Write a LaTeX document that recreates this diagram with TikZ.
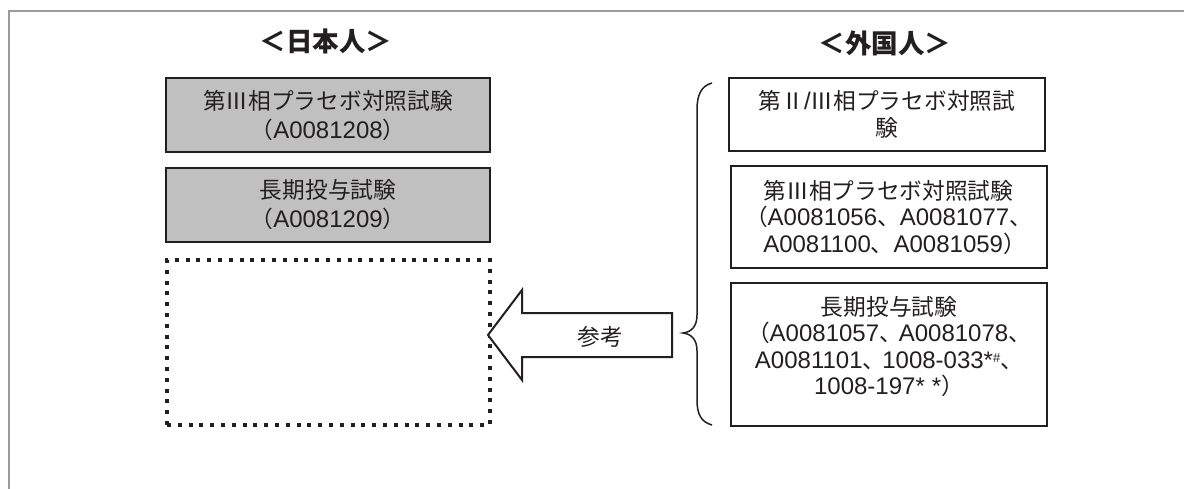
\documentclass[tikz,border=0pt]{standalone}
\usepackage{fontspec}
\setmainfont{Liberation Sans}
\newfontfamily\cj[Scale=0.946]{Noto Sans CJK JP}
\definecolor{ink}{HTML}{231F20}
\definecolor{boxgray}{HTML}{C0C0C0}
\definecolor{framegray}{HTML}{9A9A9A}
\begin{document}
\begin{tikzpicture}[x=1pt,y=-1pt,
  every node/.style={inner sep=0pt, outer sep=0pt},
  header/.style={font=\fontsize{28}{30}\selectfont\cj\bfseries, text=ink},
  jpbox/.style={draw=ink, line width=2pt, fill=boxgray, align=center, text=ink,
    font=\fontsize{24}{29}\selectfont, minimum width=324pt, minimum height=74pt},
  fgbox/.style={draw=ink, line width=2pt, fill=white, align=center, text=ink,
    font=\fontsize{24}{26.5}\selectfont, minimum width=316pt},
  emptybox/.style={draw=ink, line width=4pt, dash pattern=on 4pt off 6.8pt,
    minimum width=323pt, minimum height=165pt},
  reflabel/.style={font=\fontsize{24}{26}\selectfont\cj, text=ink},
  bigarrow/.style={draw=ink, line width=2pt, fill=white, line join=miter},
  bracestyle/.style={draw=ink, line width=1.5pt},
  framestyle/.style={draw=framegray, line width=1.5pt}
]
\useasboundingbox (0,0) rectangle (1184,489);
\fill[white] (0,0) rectangle (1184,489);
% frame
\draw[framestyle] (9,489) -- (9,11) -- (1184,11);

% headers
\node[header] (hjp) at (326,41) {＜日本人＞};
\node[header] (hfg) at (885,43) {＜外国人＞};

% Japanese side
\node[jpbox] (jp1) at (328,115) {{\cj 第Ⅲ相プラセボ対照試験}\\{\cj （}A0081208{\cj ）}};
\node[jpbox] (jp2) at (328,205) {{\cj 長期投与試験}\\{\cj （}A0081209{\cj ）}};
\node[emptybox] (jp3) at (328.5,342.5) {};

% foreign side
\node[fgbox, minimum height=73pt] (fg1) at (887,114.5)
  {{\cj 第Ⅱ}/{\cj Ⅲ相プラセボ対照試}\\{\cj 験}};
\node[fgbox, minimum height=102pt] (fg2) at (888.5,217)
  {{\cj 第Ⅲ相プラセボ対照試験}\\{\cj （}A0081056{\cj 、}A0081077{\cj 、}\\\hspace*{12pt}A0081100{\cj 、}A0081059{\cj ）}};
\node[fgbox, minimum height=143pt] (fg3) at (889,354.5)
  {{\cj 長期投与試験}\\{\cj （}A0081057{\cj 、}\hspace{-3pt}A0081078{\cj 、}\\A0081101{\cj 、}\hspace{-3pt}1008-033*\raisebox{6pt}{\fontsize{13}{13}\selectfont\#}{\cj 、}\\1008-197*\hspace{7pt}*{\cj ）}\\[-8.5pt]\mbox{}};

% arrow with label
\coordinate (tip) at (488,335);
\draw[bigarrow] (tip) -- (522,290) -- (522,313) -- (672,313) -- (672,357) -- (522,357) -- (522,380) -- cycle;
\node[reflabel] (ref) at (600,337) {参考};

% brace
\draw[bracestyle] (712,83) .. controls (701,86) and (697,95) .. (697,110)
  -- (697,315) .. controls (697,327) and (691,332) .. (683,333)
  .. controls (691,334) and (697,339) .. (697,351)
  -- (697,400) .. controls (697,414) and (701,422) .. (712,425);
\end{tikzpicture}
\end{document}
